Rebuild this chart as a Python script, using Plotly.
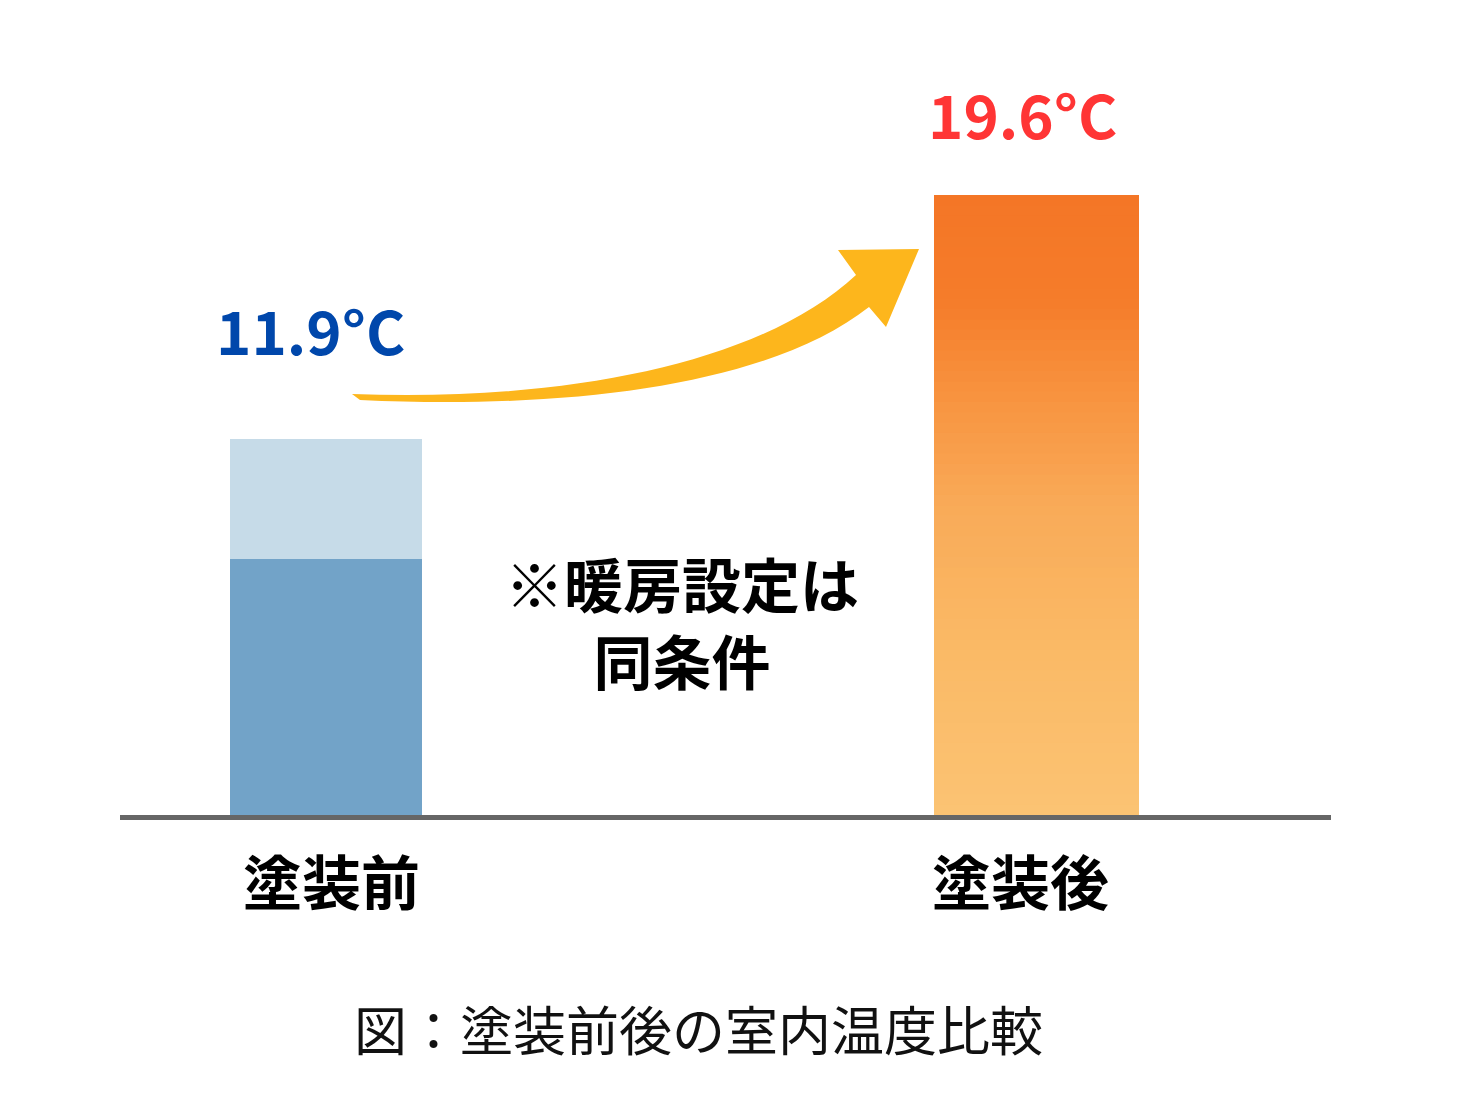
import plotly.graph_objects as go

# ---- data ----
categories = ["塗装前", "塗装後"]
temps = [11.9, 19.6]
before_split = 8.1          # height of the darker lower part of the "before" bar
value_labels = ["11.9°C", "19.6°C"]
note_text = "※暖房設定は<br>同条件"
caption = "図：塗装前後の室内温度比較"

W, H = 1477, 1108
OFF = 8  # page body margin offset
FONT = "Noto Sans CJK JP"

def PX(x):
    return (x - OFF) / W

def PY(y):
    return 1 - (y - OFF) / H

base_px = 815
px_per_unit = 620 / 19.6
y_top = (base_px - OFF) / px_per_unit

fig = go.Figure()

# before bar (two tones)
fig.add_trace(go.Bar(x=[categories[0]], y=[before_split], width=0.27,
                     marker=dict(color="#72A3C8", line=dict(width=0)), hoverinfo="skip"))
fig.add_trace(go.Bar(x=[categories[0]], y=[temps[0] - before_split], width=0.27,
                     marker=dict(color="#C6DBE8", line=dict(width=0)), hoverinfo="skip"))

# after bar: vertical gradient built from stacked slices
stops = [(0.0, (251, 195, 115)), (0.3, (250, 184, 100)), (0.5, (249, 170, 88)),
         (0.67, (248, 148, 64)), (0.83, (245, 124, 42)), (1.0, (244, 118, 38))]

def grad(f):
    for (f0, c0), (f1, c1) in zip(stops[:-1], stops[1:]):
        if f0 <= f <= f1:
            t = (f - f0) / (f1 - f0)
            return "rgb(%d,%d,%d)" % tuple(round(a + (b - a) * t) for a, b in zip(c0, c1))
    return "rgb(%d,%d,%d)" % stops[-1][1]

N = 60
for i in range(N):
    col = grad((i + 0.5) / N)
    fig.add_trace(go.Bar(x=[categories[1]], y=[temps[1] / N], width=0.2885,
                         marker=dict(color=col, line=dict(width=0.6, color=col)),
                         hoverinfo="skip"))

# value labels
fig.add_annotation(x=categories[0], y=temps[0], text=value_labels[0], showarrow=False,
                   xanchor="center", yanchor="middle",
                   xshift=-16, yshift=110, font=dict(family=FONT, size=60, color="#0047AB", weight="bold"))
fig.add_annotation(x=categories[1], y=temps[1], text=value_labels[1], showarrow=False,
                   xanchor="center", yanchor="middle",
                   xshift=-14, yshift=83, font=dict(family=FONT, size=60, color="#FF3535", weight="bold"))

# category labels
label_shift = [5, -16]
for c, s in zip(categories, label_shift):
    fig.add_annotation(x=c, y=0, text=c, showarrow=False, xanchor="center", yanchor="middle",
                       xshift=s, yshift=-64,
                       font=dict(family=FONT, size=59, color="#000000", weight="bold"))

# note
fig.add_annotation(xref="paper", yref="paper", x=PX(682), y=PY(621), text=note_text,
                   showarrow=False, align="center", xanchor="center", yanchor="middle",
                   font=dict(family=FONT, size=59, color="#000000", weight="bold"))

# caption
fig.add_annotation(xref="paper", yref="paper", x=PX(698), y=PY(1028), text=caption,
                   showarrow=False, xanchor="center", yanchor="middle",
                   font=dict(family=FONT, size=53, color="#111111"))

# curved arrow (decoration)
def P(x, y):
    return "%.5f %.5f" % (PX(x), PY(y))

path = ("M " + P(352, 394) +
        " C " + P(560, 402) + ", " + P(760, 365) + ", " + P(856, 275) +
        " L " + P(838, 250) + " L " + P(919, 249) + " L " + P(886, 327) +
        " L " + P(869, 307) +
        " C " + P(770, 385) + ", " + P(570, 410) + ", " + P(360, 400) + " Z")
fig.add_shape(type="path", xref="paper", yref="paper", path=path,
              fillcolor="#FDB61C", line=dict(width=0), layer="above")

fig.update_layout(
    width=W, height=H, barmode="stack", showlegend=False,
    margin=dict(l=0, r=0, t=0, b=0),
    paper_bgcolor="white", plot_bgcolor="white",
    xaxis=dict(domain=[PX(120), PX(1331)], range=[-0.29, 1.4145], type="category",
               categoryorder="array", categoryarray=categories,
               showline=True, linecolor="#666666", linewidth=5, showgrid=False,
               ticks="", showticklabels=False, zeroline=False, automargin=False),
    yaxis=dict(domain=[PY(base_px), 1], range=[0, y_top], visible=False, showgrid=False),
)

fig.write_html("out.html")
